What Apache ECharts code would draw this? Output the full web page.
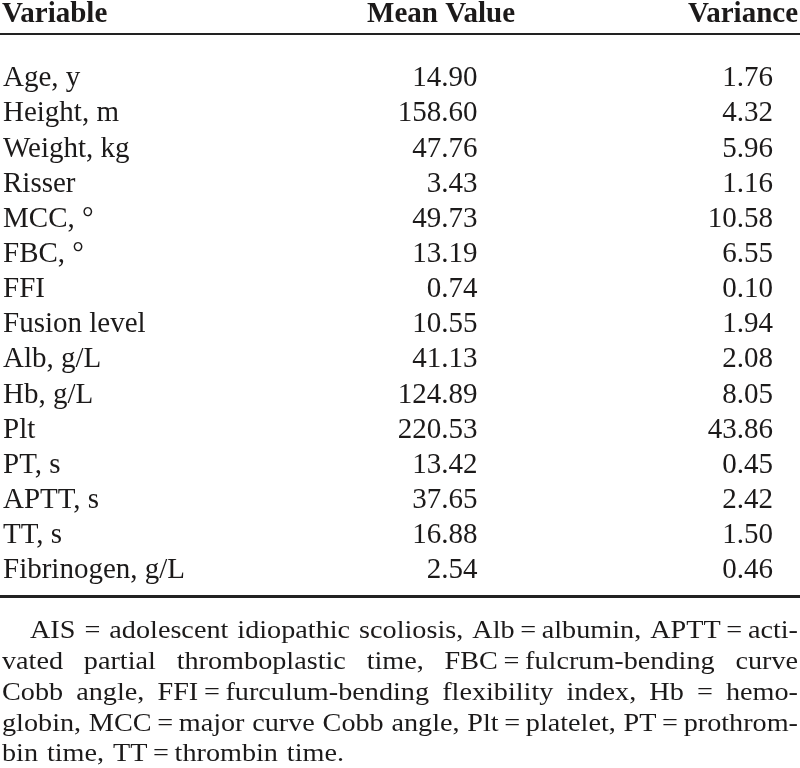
<!DOCTYPE html>
<html>
<head>
<meta charset="utf-8">
<script src="https://cdn.jsdelivr.net/npm/echarts@6/dist/echarts.min.js"></script>
<style>
  html, body { margin: 0; padding: 0; background: #fff; }
  #chart { width: 800px; height: 768px; }
</style>
</head>
<body>
<div id="chart"></div>
<script>
// ---- data ----
const headers = ['Variable', 'Mean Value', 'Variance'];
const variables = ['Age, y', 'Height, m', 'Weight, kg', 'Risser', 'MCC, \u00B0', 'FBC, \u00B0', 'FFI',
  'Fusion level', 'Alb, g/L', 'Hb, g/L', 'Plt', 'PT, s', 'APTT, s', 'TT, s', 'Fibrinogen, g/L'];
const meanValues = [14.90, 158.60, 47.76, 3.43, 49.73, 13.19, 0.74, 10.55, 41.13, 124.89, 220.53, 13.42, 37.65, 16.88, 2.54];
const variances = [1.76, 4.32, 5.96, 1.16, 10.58, 6.55, 0.10, 1.94, 2.08, 8.05, 43.86, 0.45, 2.42, 1.50, 0.46];
const T = '\u2009=\u2009';
const footnoteLines = [
  ['AIS', '=', 'adolescent', 'idiopathic', 'scoliosis,', 'Alb' + T + 'albumin,', 'APTT' + T + 'acti-'],
  ['vated', 'partial', 'thromboplastic', 'time,', 'FBC' + T + 'fulcrum-bending', 'curve'],
  ['Cobb', 'angle,', 'FFI' + T + 'furculum-bending', 'flexibility', 'index,', 'Hb', '=', 'hemo-'],
  ['globin,', 'MCC' + T + 'major', 'curve', 'Cobb', 'angle,', 'Plt' + T + 'platelet,', 'PT' + T + 'prothrom-'],
  ['bin', 'time,', 'TT' + T + 'thrombin', 'time.']
];

// ---- layout / style ----
const TEXT = '#1c1a1a';
const RULE = '#222';
const SERIF = '"Liberation Serif", "Times New Roman", serif';
const BODY_SIZE = 29;
const SHIFT = 3.5;
const COL = { meanRight: 477, varRight: 773, meanHeadRight: 515, varHeadRight: 798 };
const FN = { size: 25, firstBaseline: 640, pitch: 30.8, indent: 30, left: 2, right: 798, lastRight: 344, firstGap: 9 };

const chart = echarts.init(document.getElementById('chart'), null, { renderer: 'canvas' });

// footnote word placement (justified)
const ctx = document.createElement('canvas').getContext('2d');
ctx.font = FN.size + 'px ' + SERIF;
const line1W = footnoteLines[0].map(w => ctx.measureText(w).width).reduce((a, b) => a + b, 0);
const sx = (FN.right - FN.indent - (footnoteLines[0].length - 1) * FN.firstGap) / line1W;
const fnGraphics = [];
footnoteLines.forEach((words, li) => {
  const x0 = li === 0 ? FN.indent : FN.left;
  const x1 = li === footnoteLines.length - 1 ? FN.lastRight : FN.right;
  const widths = words.map(w => ctx.measureText(w).width * sx);
  const total = widths.reduce((a, b) => a + b, 0);
  const gap = (x1 - x0 - total) / (words.length - 1);
  let x = x0;
  const yMid = FN.firstBaseline + li * FN.pitch - 0.3375 * FN.size;
  words.forEach((w, wi) => {
    fnGraphics.push({
      type: 'text', x: x, y: yMid, scaleX: sx, silent: true,
      style: { text: w, font: FN.size + 'px ' + SERIF, fill: TEXT, textAlign: 'left', textVerticalAlign: 'middle' }
    });
    x += widths[wi] + gap;
  });
});

const headerMid = 21 - 0.3375 * BODY_SIZE + SHIFT;
const headerFont = 'bold ' + BODY_SIZE + 'px ' + SERIF;
const bodyFont = BODY_SIZE + 'px ' + SERIF;

const option = {
  animation: false,
  backgroundColor: '#fff',
  grid: { left: 0, right: 0, top: 57.6 + SHIFT, height: 527.1 },
  xAxis: { type: 'value', min: 0, max: 800, show: false },
  yAxis: {
    type: 'category', data: variables, inverse: true,
    axisLine: { show: false }, axisTick: { show: false }, splitLine: { show: false },
    axisLabel: { inside: true, interval: 0, margin: 2, align: 'left', fontFamily: SERIF, fontSize: BODY_SIZE, color: TEXT }
  },
  series: [{
    type: 'custom',
    data: variables.map((v, i) => [i, meanValues[i], variances[i]]),
    encode: { y: 0 },
    renderItem: function (params, api) {
      const row = api.value(0);
      const y = api.coord([0, row])[1];
      const xm = api.coord([COL.meanRight, row])[0];
      const xv = api.coord([COL.varRight, row])[0];
      return {
        type: 'group',
        children: [
          { type: 'text', x: xm, y: y, style: { text: api.value(1).toFixed(2), font: bodyFont, fill: TEXT, textAlign: 'right', textVerticalAlign: 'middle' } },
          { type: 'text', x: xv, y: y, style: { text: api.value(2).toFixed(2), font: bodyFont, fill: TEXT, textAlign: 'right', textVerticalAlign: 'middle' } }
        ]
      };
    }
  }],
  graphic: [
    { type: 'text', x: 2, y: headerMid, style: { text: headers[0], font: headerFont, fill: TEXT, textAlign: 'left', textVerticalAlign: 'middle' } },
    { type: 'text', x: COL.meanHeadRight, y: headerMid, style: { text: headers[1], font: headerFont, fill: TEXT, textAlign: 'right', textVerticalAlign: 'middle' } },
    { type: 'text', x: COL.varHeadRight, y: headerMid, style: { text: headers[2], font: headerFont, fill: TEXT, textAlign: 'right', textVerticalAlign: 'middle' } },
    { type: 'line', shape: { x1: 0, y1: 34, x2: 800, y2: 34 }, style: { stroke: RULE, lineWidth: 2 } },
    { type: 'line', shape: { x1: 0, y1: 596.5, x2: 800, y2: 596.5 }, style: { stroke: RULE, lineWidth: 3 } }
  ].concat(fnGraphics)
};
chart.setOption(option);
</script>
</body>
</html>
